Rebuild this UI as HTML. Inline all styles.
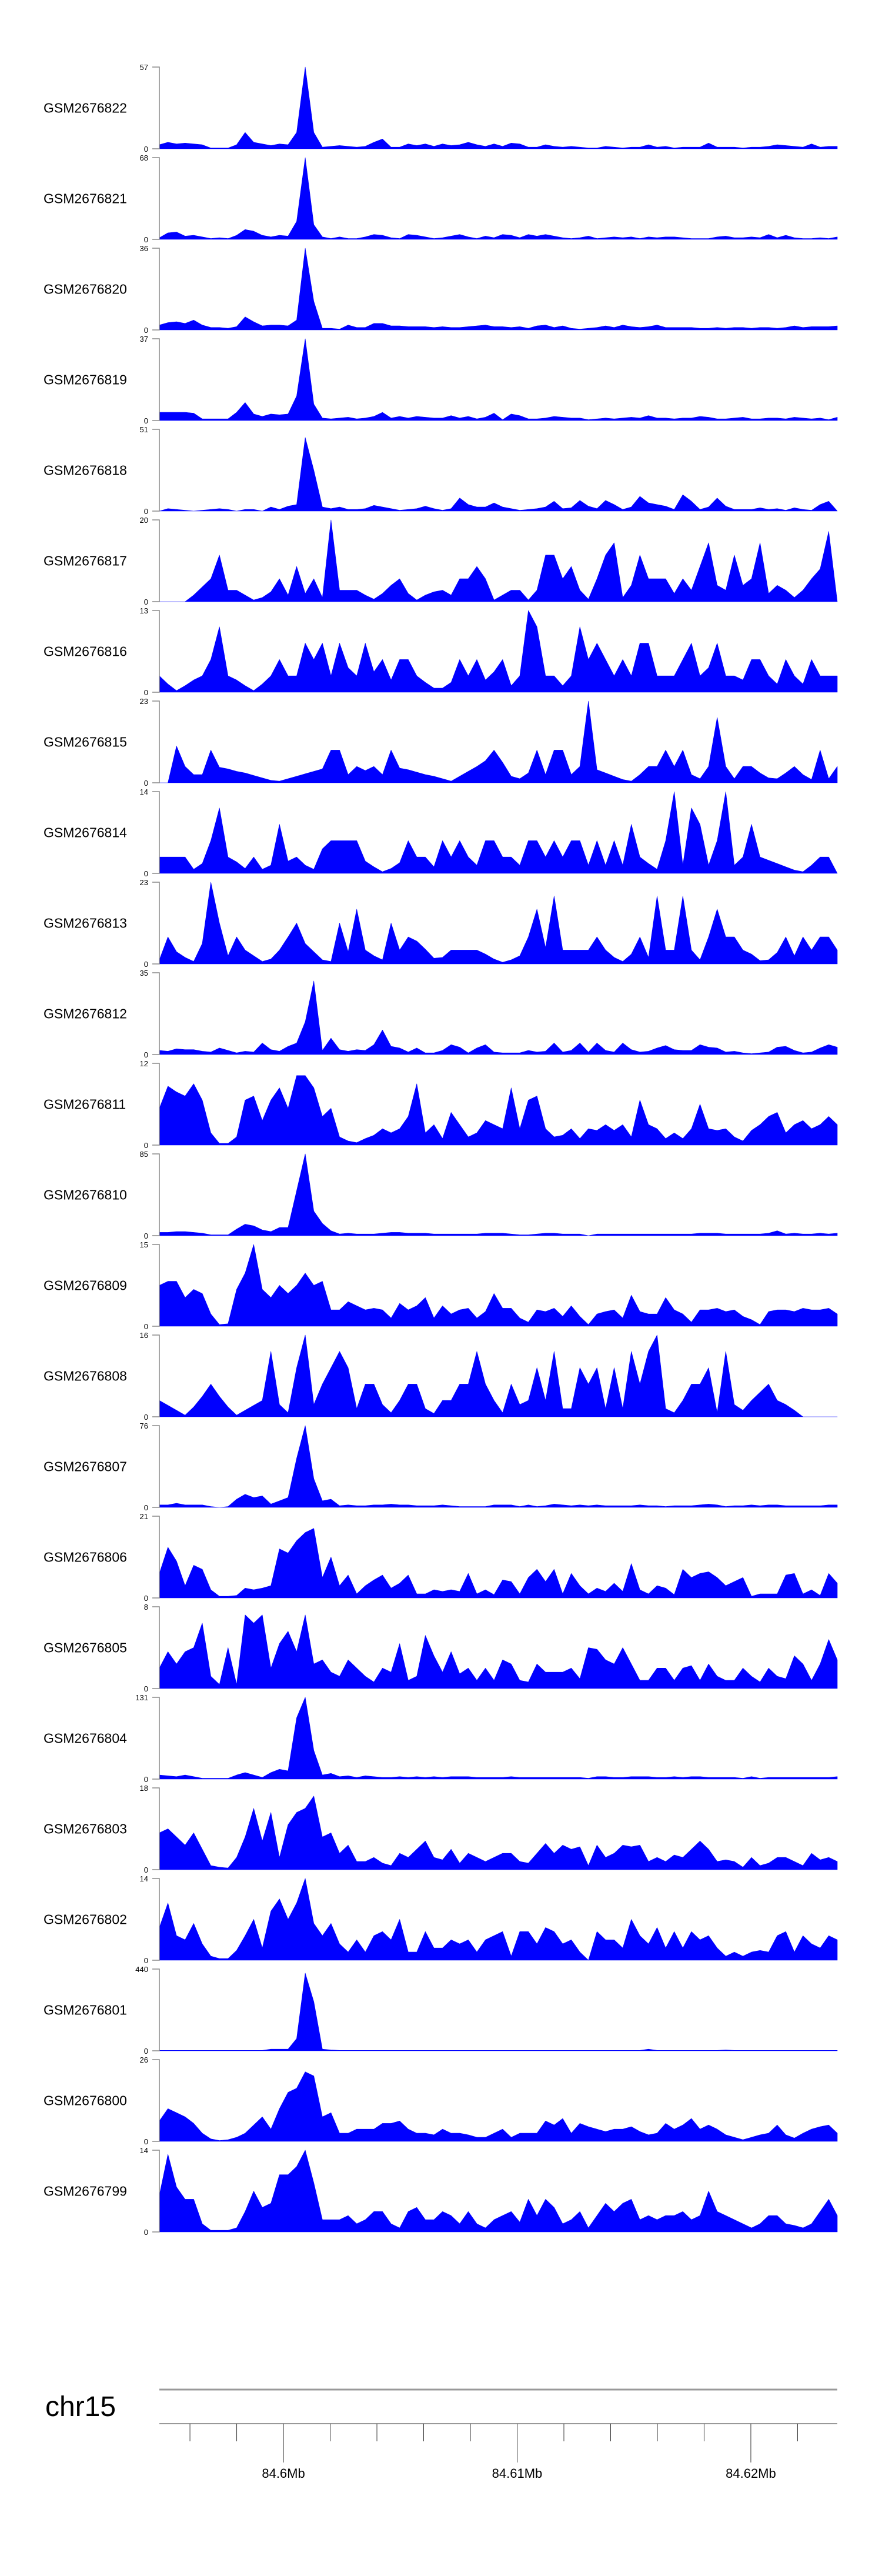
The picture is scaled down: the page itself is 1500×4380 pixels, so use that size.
<!DOCTYPE html>
<html><head><meta charset="utf-8"><title>Coverage tracks chr15</title>
<style>
html,body{margin:0;padding:0;background:#fff;}
body{width:1500px;height:4380px;overflow:hidden;}
svg{display:block;font-family:"Liberation Sans",Arial,sans-serif;}
</style></head>
<body>
<svg id="chart" width="1500" height="4380" viewBox="0 0 1500 4380" xmlns="http://www.w3.org/2000/svg">
  <g id="tracks"></g>
  <g id="genome-axis">
    <text x="77" y="4108" font-size="48" fill="#000">chr15</text>
    <line x1="271" y1="4063" x2="1424" y2="4063" stroke="#999" stroke-width="3"/>
    <line x1="271" y1="4121" x2="1424" y2="4121" stroke="#999" stroke-width="2"/>
  </g>
</svg>
<script>
// ---- data ----
const sampleNames = ["GSM2676822","GSM2676821","GSM2676820","GSM2676819","GSM2676818","GSM2676817","GSM2676816","GSM2676815","GSM2676814","GSM2676813","GSM2676812","GSM2676811","GSM2676810","GSM2676809","GSM2676808","GSM2676807","GSM2676806","GSM2676805","GSM2676804","GSM2676803","GSM2676802","GSM2676801","GSM2676800","GSM2676799"];
const yMaxLabels = [57,68,36,37,51,20,13,23,14,23,35,12,85,15,16,76,21,8,131,18,14,440,26,14];
const genomeTicks = [84600000,84610000,84620000];
const genomeTickLabels = ["84.6Mb","84.61Mb","84.62Mb"];
const minorTickStep = 2000;
const regionStart = 84594690;
const regionEnd = 84623700;
// signal, as percent of each track's axis maximum, in 80 equal genomic bins
const s822=[5,8,6,7,6,5,1,1,1,5,20,8,6,4,6,5,20,100,20,2,3,4,3,2,3,8,12,2,2,6,4,6,3,6,4,5,8,5,3,6,3,7,6,2,2,5,3,2,3,2,1,1,3,2,1,2,2,5,2,3,1,2,2,2,7,2,2,2,1,2,2,3,5,4,3,2,6,2,3,3];
const s821=[2,8,9,4,5,3,1,2,1,5,12,10,5,3,5,4,22,100,18,3,1,3,1,1,3,6,5,2,1,6,5,3,1,2,4,6,3,1,4,2,6,5,2,6,4,6,4,2,1,2,4,1,2,3,2,3,1,3,2,3,3,2,1,1,1,3,4,2,2,3,2,6,2,5,2,1,1,2,1,3];
const s820=[6,9,10,8,12,6,3,3,2,4,16,10,5,6,6,5,12,100,35,2,2,1,6,3,3,8,8,5,5,4,4,4,3,4,3,3,4,5,6,4,4,3,4,2,5,6,3,5,2,1,2,3,5,3,6,4,3,4,6,3,3,3,3,2,2,3,2,3,3,2,3,3,2,3,5,3,4,4,4,5];
const s819=[10,10,10,10,9,2,2,2,2,10,22,8,5,8,7,8,30,100,20,3,2,3,4,2,3,5,10,3,5,3,5,4,3,3,6,3,5,2,4,9,1,8,6,2,2,3,5,4,3,3,1,2,3,2,3,4,3,6,3,3,2,3,3,5,4,2,2,3,4,2,2,3,3,2,4,3,2,3,1,4];
const s818=[0,3,2,1,0,1,2,3,2,0,2,2,0,5,2,6,8,90,50,5,3,5,2,2,3,7,5,3,1,2,3,6,3,1,3,16,8,5,5,10,5,3,1,2,3,5,12,3,4,13,6,3,13,8,2,5,18,10,8,6,2,20,12,2,5,16,6,2,2,2,4,2,3,1,4,2,1,8,12,0];
const s817=[0,0,0,0,8,18,28,57,14,14,8,2,5,12,28,8,43,10,28,5,100,14,14,14,8,3,10,20,28,10,2,8,12,14,8,28,28,43,28,2,8,14,14,2,14,57,57,28,43,14,3,28,57,72,5,20,57,28,28,28,10,28,14,43,72,20,14,57,20,28,72,10,20,14,5,14,28,40,86,0];
const s816=[20,10,2,8,15,20,40,80,20,15,8,2,10,20,40,20,20,60,40,60,20,60,30,20,60,25,40,15,40,40,20,12,5,5,12,40,20,40,15,25,40,8,20,100,80,20,20,8,20,80,40,60,40,20,40,20,60,60,20,20,20,40,60,20,30,60,20,20,15,40,40,20,10,40,20,10,40,20,20,20];
const s815=[0,0,45,20,10,10,40,19,17,14,12,9,6,3,2,5,8,11,14,17,40,40,10,20,15,20,10,40,18,16,13,10,8,5,2,8,14,20,27,40,25,8,5,12,40,10,40,40,10,20,100,16,12,8,4,2,10,20,20,40,20,40,10,5,20,80,20,5,20,20,12,6,5,12,20,10,4,40,5,20];
const s814=[20,20,20,20,5,12,40,80,20,14,6,20,5,10,60,15,20,10,5,30,40,40,40,40,15,8,2,6,13,40,20,20,8,40,20,40,20,10,40,40,20,20,10,40,40,20,40,20,40,40,10,40,10,40,10,60,20,12,5,40,100,10,80,60,10,40,100,10,20,60,20,16,12,8,4,2,10,20,20,0];
const s813=[5,33,15,8,3,25,100,50,10,33,17,10,3,6,17,33,50,25,15,5,3,50,15,67,17,10,5,50,17,33,28,18,7,8,17,17,17,17,12,6,2,5,10,33,67,20,83,17,17,17,17,33,17,8,3,12,33,8,83,17,17,83,17,5,33,67,33,33,17,12,4,5,14,33,10,33,17,33,33,17];
const s812=[5,4,7,6,6,4,3,8,5,2,4,3,14,6,4,10,14,40,90,5,20,6,4,6,5,12,30,10,8,3,8,2,2,5,12,9,2,8,12,3,2,2,2,5,3,4,14,3,5,14,3,14,5,3,14,6,3,4,8,11,6,5,5,12,9,8,3,4,2,1,2,3,9,10,5,2,3,8,12,9];
const s811=[45,72,65,60,75,55,15,2,2,10,55,60,30,55,70,45,85,85,70,35,45,10,5,3,8,12,20,15,20,35,75,15,25,8,40,25,10,15,30,25,20,70,20,55,60,20,10,12,20,8,20,18,25,18,25,10,55,25,20,8,15,8,20,50,20,18,20,10,5,18,25,35,40,15,25,30,20,25,35,25];
const s810=[4,4,5,5,4,3,1,1,1,8,14,12,7,5,10,10,55,100,30,15,6,2,3,2,2,2,3,4,4,3,3,3,2,2,2,2,2,2,3,3,3,2,1,1,2,3,3,2,2,2,0,2,2,2,2,2,2,2,2,2,2,2,2,3,3,3,2,2,2,2,2,3,6,2,3,2,2,3,2,3];
const s809=[50,55,55,35,45,40,15,2,3,45,65,100,45,35,50,40,50,65,50,55,20,20,30,25,20,22,20,10,28,20,25,35,10,25,15,20,22,10,18,40,22,22,10,5,20,18,22,12,25,12,2,15,18,20,10,38,18,15,15,35,20,15,5,20,20,22,18,20,12,8,2,18,20,20,18,22,20,20,22,15];
const s808=[20,14,8,2,12,25,40,25,12,2,8,14,20,80,15,5,60,100,15,40,60,80,60,10,40,40,15,5,20,40,40,10,4,20,20,40,40,80,40,20,5,40,15,20,60,20,80,10,10,60,40,60,10,60,10,80,40,80,100,10,5,20,40,40,60,5,80,15,8,20,30,40,20,15,8,0,0,0,0,0];
const s807=[3,3,5,3,3,3,1,0,1,10,16,12,14,4,8,12,60,100,35,8,10,2,3,2,2,3,3,4,3,3,2,2,2,3,2,1,1,1,1,3,3,3,1,3,1,2,4,3,2,3,2,3,2,2,2,2,3,2,2,1,2,2,2,3,4,3,1,2,2,3,2,3,3,2,2,2,2,2,3,3];
const s806=[30,62,45,15,40,35,10,2,2,3,12,10,12,15,60,55,70,80,85,25,50,15,28,5,15,22,28,12,18,28,5,5,10,8,10,8,30,5,10,4,22,20,5,25,35,20,35,5,30,15,5,12,8,18,8,42,10,5,15,12,4,35,25,30,32,25,15,20,25,2,5,5,5,28,30,5,10,3,30,18];
const s805=[25,45,30,45,50,80,15,5,50,5,90,80,90,25,55,70,45,90,30,35,20,15,35,25,15,8,25,20,55,10,15,65,40,20,45,18,25,10,25,10,35,30,10,8,30,20,20,20,25,12,50,48,35,30,50,30,10,10,25,25,10,25,28,10,30,15,10,10,25,15,8,25,15,12,40,30,10,30,60,35];
const s804=[5,4,3,5,3,1,1,1,1,5,8,5,2,8,12,10,75,100,35,5,7,3,4,2,4,3,2,2,3,2,3,2,3,2,3,3,3,2,2,2,2,3,2,2,2,2,2,2,2,2,1,3,3,2,2,3,3,3,2,2,3,2,3,3,2,2,2,2,1,3,1,2,2,2,2,2,2,2,2,3];
const s803=[45,50,40,30,45,25,5,3,2,15,40,75,35,70,15,55,70,75,90,40,45,20,30,10,10,15,8,5,20,15,25,35,15,12,25,8,20,15,10,15,20,20,10,8,20,32,20,30,25,28,5,30,15,20,30,28,30,10,15,10,18,15,25,35,25,10,12,10,3,15,5,8,15,15,10,5,20,12,15,10];
const s802=[40,70,30,25,45,20,5,2,2,12,30,50,15,60,75,50,70,100,45,30,45,20,10,25,10,30,35,25,50,10,10,35,15,15,25,20,25,10,25,30,35,5,35,35,20,40,35,20,25,10,0,35,25,25,15,50,30,20,40,15,35,15,35,25,30,15,5,10,5,10,12,10,30,35,10,30,20,15,30,25];
const s801=[0.5,0.5,0.5,0.5,0.5,0.5,0.5,0.5,0.5,0.5,0.5,0.5,0.5,2,2,2,15,95,60,2,1,0.5,0.5,0.5,0.5,0.5,0.5,0.5,0.5,0.5,0.5,0.5,0.5,0.5,0.5,0.5,0.5,0.5,0.5,0.5,0.5,0.5,0.5,0.5,0.5,0.5,0.5,0.5,0.5,0.5,0.5,0.5,0.5,0.5,0.5,0.5,0.5,2,0.5,0.5,0.5,0.5,0.5,0.5,0.5,0.5,1,0.5,0.5,0.5,0.5,0.5,0.5,0.5,0.5,0.5,0.5,0.5,0.5,0.5];
const s800=[25,40,35,30,22,10,3,1,2,5,10,20,30,15,40,60,65,85,80,30,35,10,10,15,15,15,22,22,25,15,10,10,8,15,10,10,8,5,5,10,15,5,10,10,10,25,20,28,10,22,18,15,12,15,15,18,12,8,10,22,15,20,28,15,20,15,8,5,2,5,8,10,20,8,4,10,15,18,20,10];
const s799=[45,95,55,40,40,10,2,2,2,5,25,50,30,35,70,70,80,100,60,15,15,15,20,10,15,25,25,10,5,25,30,15,15,25,20,10,25,10,5,15,20,25,12,40,20,40,30,10,15,25,5,20,35,25,35,40,15,20,15,20,20,25,15,20,50,25,20,15,10,5,10,20,20,10,8,5,10,25,40,20];
const trackSignals = [s822,s821,s820,s819,s818,s817,s816,s815,s814,s813,s812,s811,s810,s809,s808,s807,s806,s805,s804,s803,s802,s801,s800,s799];

// ---- layout ----
const NS = "http://www.w3.org/2000/svg";
const plotLeft = 271, plotRight = 1424;
const firstTop = 114, trackPitch = 154, trackHeight = 139;
function xScale(pos){ return plotLeft + (pos - regionStart) / (regionEnd - regionStart) * (plotRight - plotLeft); }
function binPos(i, n){ return regionStart + i / (n - 1) * (regionEnd - regionStart); }
function mk(tag, attrs){ const e = document.createElementNS(NS, tag); for (const k in attrs) e.setAttribute(k, attrs[k]); return e; }

const tracksG = document.getElementById("tracks");
trackSignals.forEach((sig, t) => {
  const top = firstTop + t * trackPitch, base = top + trackHeight;
  const yScale = v => base - (v / 100) * trackHeight;
  const g = mk("g", {});
  
  
  tracksG.appendChild(g);

  const label = mk("text", {x: 74, y: (top + base) / 2 + 8, "font-size": 23, fill: "#000"});
  
  
  label.textContent = sampleNames[t];
  g.appendChild(label);

  let d = "M" + xScale(binPos(0, sig.length)).toFixed(1) + "," + base;
  sig.forEach((v, i) => { d += " L" + xScale(binPos(i, sig.length)).toFixed(1) + "," + yScale(v).toFixed(1); });
  d += " L" + xScale(binPos(sig.length - 1, sig.length)).toFixed(1) + "," + base + " Z";
  const area = mk("path", {d: d, fill: "#0000FF", stroke: "#0000FF", "stroke-width": 0.6, "stroke-linejoin": "round"});
  
  
  g.appendChild(area);

  const axis = mk("path", {d: "M259," + top + " H271 V" + base + " H259", fill: "none", stroke: "#888", "stroke-width": 1.5});
  
  
  g.appendChild(axis);

  const tmax = mk("text", {x: 252, y: top + 5, "font-size": 13, "text-anchor": "end", fill: "#000"});
  
  
  tmax.textContent = yMaxLabels[t];
  g.appendChild(tmax);

  const tzero = mk("text", {x: 252, y: base + 5, "font-size": 13, "text-anchor": "end", fill: "#000"});
  
  
  tzero.textContent = "0";
  g.appendChild(tzero);
});

// genome axis ticks
const ga = document.getElementById("genome-axis");
const firstMinor = Math.ceil(regionStart / minorTickStep) * minorTickStep;
for (let p = firstMinor; p <= regionEnd; p += minorTickStep) {
  const x = xScale(p);
  const isMajor = genomeTicks.indexOf(p) >= 0;
  const tk = mk("line", {x1: x, y1: 4121, x2: x, y2: isMajor ? 4187 : 4151, stroke: "#333", "stroke-width": 1});
  
  
  ga.appendChild(tk);
}
genomeTicks.forEach((p, i) => {
  const tl = mk("text", {x: xScale(p), y: 4213, "font-size": 22, "text-anchor": "middle", fill: "#000"});
  
  
  tl.textContent = genomeTickLabels[i];
  ga.appendChild(tl);
});
</script>
</body></html>
